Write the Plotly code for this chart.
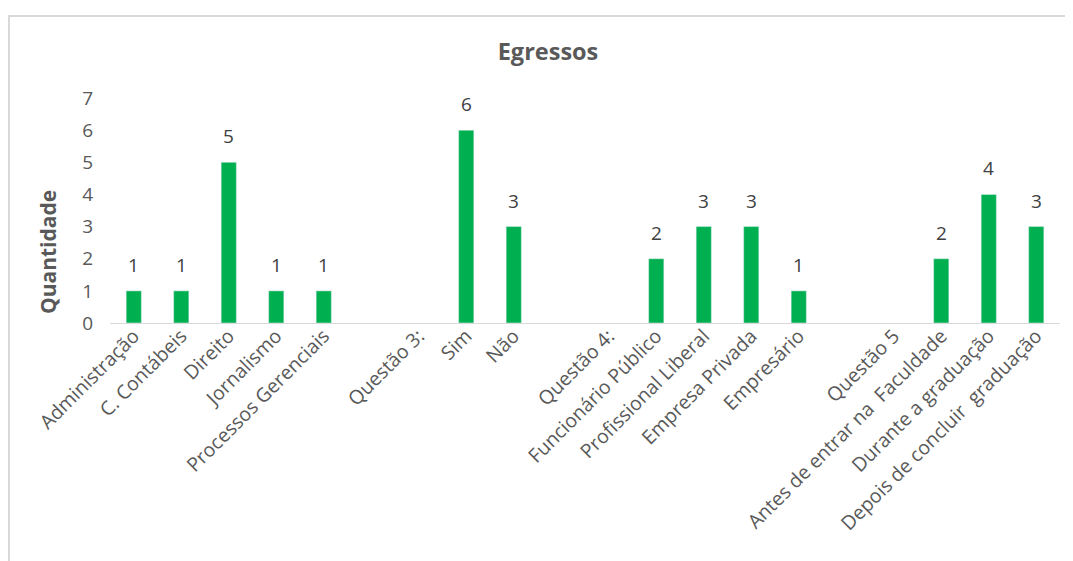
import plotly.graph_objects as go

categories = [
    "Administração", "C. Contábeis", "Direito", "Jornalismo", "Processos Gerenciais",
    "", "Questão 3:", "Sim", "Não",
    "", "Questão 4:", "Funcionário Público", "Profissional Liberal", "Empresa Privada", "Empresário",
    "", "Questão 5", "Antes de entrar na\u00a0 Faculdade", "Durante a graduação",
    "Depois de concluir\u00a0 graduação",
]
values = [1, 1, 5, 1, 1, None, None, 6, 3, None, None, 2, 3, 3, 1, None, None, 2, 4, 3]
y_ticks = [0, 1, 2, 3, 4, 5, 6, 7]

positions = list(range(len(categories)))

FONT = "Open Sans, Noto Sans, sans-serif"
GRAY = "#595959"

W, H = 1073, 561
L, R, T, B = 102, 21, 90, 246
PW, PH = W - L - R, H - T - B

fig = go.Figure(go.Bar(
    x=positions,
    y=values,
    marker=dict(color="#00B050"),
    width=0.32,
))

annotations = []
for p, v in zip(positions, values):
    if v is None:
        continue
    annotations.append(dict(
        x=p, y=v, xref="x", yref="y", text=str(v), showarrow=False,
        xanchor="center", yanchor="bottom", yshift=11,
        font=dict(family=FONT, size=19, color="#404040"),
    ))

# y-axis title as rotated annotation (placed lower than center as in reference)
annotations.append(dict(
    x=(48 - 8 - L) / PW, y=(H - B - (252 - 8)) / PH, xref="paper", yref="paper",
    text="<b>Quantidade</b>", textangle=-90, showarrow=False,
    xanchor="center", yanchor="middle",
    font=dict(family=FONT, size=21, color=GRAY),
))

fig.update_layout(
    width=W, height=H,
    paper_bgcolor="white", plot_bgcolor="white",
    margin=dict(l=L, r=R, t=T, b=B),
    showlegend=False,
    title=dict(text="<b>Egressos</b>", x=(548 - 8) / W, xanchor="center", y=1 - 44 / H, yanchor="middle",
               font=dict(family=FONT, size=23.5, color=GRAY)),
    annotations=annotations,
    shapes=[dict(type="rect", xref="paper", yref="paper",
                 x0=(1 - L) / PW, x1=(W + 20 - L) / PW, y0=-2, y1=(H - B - 8) / PH,
                 line=dict(color="#D9D9D9", width=2), fillcolor="rgba(0,0,0,0)", layer="below")],
)
fig.update_xaxes(
    range=[-0.5, len(categories) - 0.5],
    tickmode="array", tickvals=positions, ticktext=categories,
    tickangle=-45, showgrid=False, zeroline=False,
    showline=True, linecolor="#D9D9D9", linewidth=1,
    ticks="", ticklabelstandoff=-7,
    tickfont=dict(family=FONT, size=19.5, color=GRAY),
)
fig.update_yaxes(
    range=[0, 7], tickmode="array", tickvals=y_ticks,
    showgrid=False, zeroline=False, showline=False, ticks="",
    ticklabelstandoff=16,
    tickfont=dict(family=FONT, size=19, color=GRAY),
)

fig.write_html("out.html")
